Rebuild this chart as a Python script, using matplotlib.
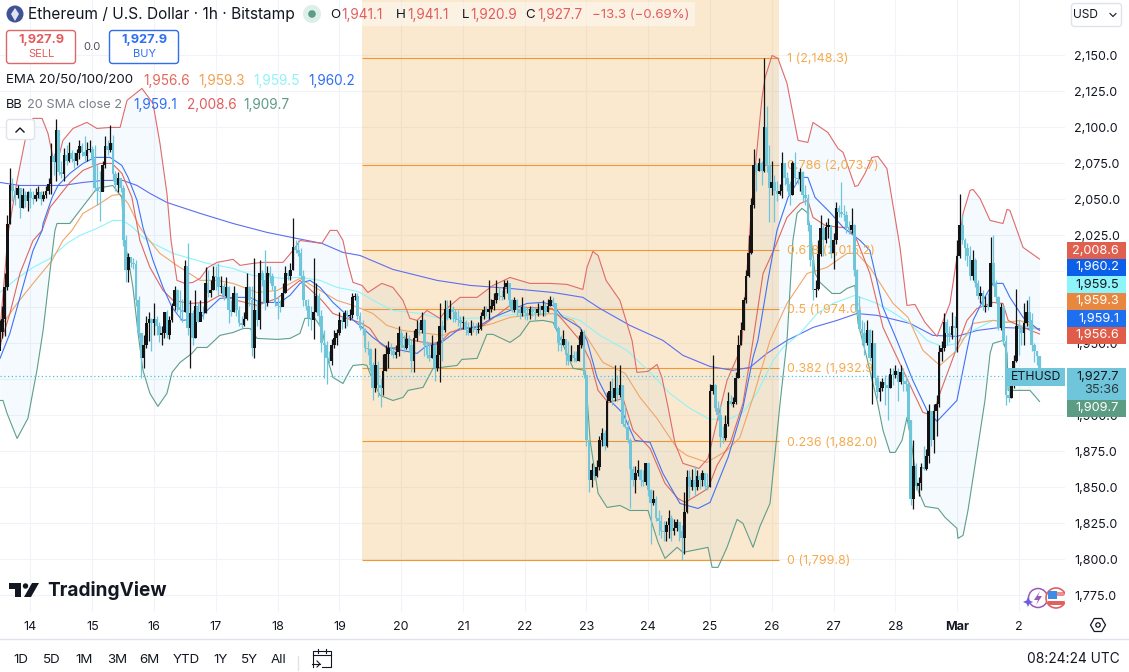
#!/usr/bin/env python3
"""ETH/USD 1h TradingView screenshot redrawn with matplotlib."""
import numpy as np
import matplotlib
matplotlib.use("Agg")
import matplotlib.pyplot as plt
from matplotlib.patches import Circle, FancyBboxPatch, Polygon, Rectangle

plt.rcParams["font.family"] = ["Inter", "DejaVu Sans"]

# hourly candles, hour 0 = Feb 13 12:00 UTC
first_open = 1945
closes = [
    1958, 1967, 1989, 2033, 2060, 2056, 2053, 2058, 2044, 2053,
    2049, 2055, 2051, 2050, 2053, 2055, 2050, 2053, 2056, 2061,
    2080, 2076, 2098, 2069, 2068, 2081, 2077, 2082, 2078, 2077,
    2082, 2087, 2083, 2080, 2084, 2085, 2078, 2058, 2056, 2055,
    2074, 2087, 2084, 2089, 2068, 2060, 2065, 2058, 2022, 2001,
    2010, 2006, 2005, 1980, 1957, 1940, 1949, 1964, 1967, 1964,
    1967, 1962, 1956, 1957, 1972, 1956, 1966, 1976, 1987, 1975,
    1973, 1972, 2004, 1961, 1971, 1954, 1976, 1965, 1972, 1971,
    1992, 1985, 1987, 1997, 1996, 1989, 1990, 1983, 1989, 1973,
    1972, 1985, 1973, 1964, 1963, 1967, 1989, 1980, 1947, 1973,
    1966, 1999, 1994, 1978, 1999, 1997, 1990, 1978, 1976, 1975,
    1985, 1999, 1997, 2001, 2017, 2015, 2013, 1997, 1980, 1976,
    1968, 1966, 1972, 1983, 1969, 1950, 1949, 1940, 1938, 1949,
    1954, 1957, 1966, 1965, 1971, 1969, 1970, 1982, 1983, 1969,
    1961, 1960, 1947, 1946, 1935, 1919, 1935, 1921, 1919, 1931,
    1943, 1947, 1945, 1942, 1944, 1957, 1949, 1947, 1953, 1949,
    1938, 1954, 1960, 1959, 1966, 1949, 1942, 1940, 1949, 1933,
    1942, 1962, 1959, 1974, 1968, 1974, 1972, 1967, 1966, 1964,
    1965, 1959, 1957, 1961, 1960, 1959, 1960, 1969, 1973, 1972,
    1974, 1976, 1980, 1985, 1983, 1982, 1989, 1992, 1980, 1973,
    1980, 1973, 1971, 1975, 1971, 1970, 1974, 1972, 1971, 1974,
    1973, 1976, 1972, 1976, 1980, 1978, 1961, 1950, 1949, 1953,
    1942, 1938, 1942, 1940, 1938, 1949, 1958, 1928, 1883, 1855,
    1862, 1858, 1864, 1883, 1888, 1879, 1910, 1917, 1912, 1919,
    1914, 1921, 1894, 1892, 1883, 1863, 1855, 1860, 1862, 1855,
    1854, 1867, 1848, 1839, 1842, 1829, 1827, 1820, 1819, 1824,
    1829, 1820, 1822, 1826, 1820, 1815, 1833, 1857, 1850, 1855,
    1850, 1858, 1855, 1860, 1851, 1850, 1917, 1921, 1905, 1900,
    1885, 1884, 1894, 1910, 1908, 1909, 1926, 1949, 1959, 1980,
    1997, 2013, 2046, 2074, 2070, 2075, 2070, 2100, 2074, 2058,
    2062, 2056, 2054, 2056, 2075, 2065, 2061, 2053, 2075, 2065,
    2064, 2069, 2053, 2051, 2032, 2008, 1987, 1988, 2012, 2030,
    2022, 2031, 2032, 2013, 2022, 2044, 2041, 2040, 2039, 2030,
    2029, 2032, 2001, 1973, 1960, 1957, 1950, 1959, 1940, 1950,
    1926, 1916, 1919, 1923, 1921, 1919, 1929, 1928, 1931, 1923,
    1930, 1924, 1922, 1897, 1842, 1865, 1851, 1853, 1864, 1863,
    1872, 1903, 1883, 1903, 1908, 1944, 1947, 1965, 1957, 1956,
    1962, 1961, 2011, 2032, 2022, 2016, 2011, 1997, 2008, 1992,
    1983, 1985, 1975, 1976, 1975.5, 2006, 1992, 1982, 1961, 1975,
    1952, 1914, 1912, 1921, 1938, 1962, 1960, 1957, 1964, 1972,
    1966, 1949, 1945, 1941.1, 1927.7,
]
highs = [
    1966, 1976, 1999, 2039, 2072, 2065, 2058, 2060, 2058, 2058,
    2056, 2056, 2058, 2056, 2058, 2059, 2056, 2056, 2059, 2065,
    2089, 2082, 2106, 2098, 2077, 2086, 2088, 2090, 2084, 2083,
    2085, 2091, 2089, 2094, 2090, 2091, 2087, 2088, 2074, 2070,
    2077, 2094, 2091, 2102, 2095, 2070, 2069, 2063, 2060, 2025,
    2013, 2010, 2009, 2008, 1983, 1957, 1956, 1969, 1972, 1968,
    1978, 1969, 1965, 1962, 1972, 1973, 1969, 1978, 1990, 1988,
    1987, 1981, 2008, 2020, 1980, 1973, 1987, 1978, 1980, 1976,
    2003, 2001, 1994, 2004, 2004, 2006, 1997, 1992, 1996, 1990,
    1980, 1990, 1983, 1976, 1969, 1972, 1999, 1990, 1990, 2009,
    1980, 2008, 2001, 2015, 2004, 2004, 1999, 1990, 1983, 1980,
    1992, 2004, 2001, 2006, 2037, 2022, 2022, 2016, 2001, 1980,
    1981, 1976, 2009, 1992, 1985, 1973, 1959, 1952, 1945, 1953,
    1959, 1960, 1972, 1969, 1973, 1973, 1974, 1985, 1985, 1985,
    1972, 1966, 1961, 1952, 1947, 1937, 1947, 1938, 1926, 1943,
    1949, 1952, 1950, 1947, 1949, 1962, 1959, 1956, 1958, 1956,
    1953, 1959, 1966, 1965, 1972, 1967, 1952, 1951, 1956, 1949,
    1952, 1978, 1966, 1980, 1980, 1980, 1976, 1974, 1973, 1969,
    1969, 1966, 1965, 1966, 1965, 1964, 1965, 1972, 1976, 1976,
    1994, 1981, 1985, 1994, 1989, 1987, 1994, 1994, 1992, 1981,
    1982, 1981, 1976, 1982, 1976, 1975, 1976, 1976, 1975, 1978,
    1977, 1980, 1978, 1981, 1983, 1982, 1978, 1962, 1956, 1959,
    1953, 1952, 1949, 1945, 1945, 1956, 1960, 1959, 1928, 1883,
    1867, 1865, 1869, 1886, 1891, 1890, 1916, 1924, 1926, 1935,
    1928, 1935, 1921, 1907, 1897, 1884, 1865, 1865, 1869, 1863,
    1862, 1867, 1867, 1849, 1848, 1844, 1834, 1831, 1827, 1827,
    1834, 1831, 1828, 1828, 1826, 1824, 1847, 1862, 1862, 1863,
    1865, 1862, 1860, 1862, 1860, 1860, 1922, 1942, 1922, 1910,
    1907, 1893, 1900, 1916, 1914, 1913, 1930, 1956, 1965, 1982,
    2001, 2025, 2051, 2085, 2075, 2079, 2077, 2148.3, 2115, 2088,
    2077, 2067, 2063, 2061, 2083, 2074, 2069, 2063, 2077, 2083,
    2070, 2072, 2070, 2060, 2054, 2032, 2009, 1994, 2022, 2039,
    2032, 2034, 2037, 2032, 2027, 2048, 2046, 2062, 2046, 2042,
    2035, 2044, 2033, 2002, 1983, 1966, 1965, 1966, 1960, 1959,
    1950, 1928, 1924, 1926, 1928, 1928, 1933, 1933, 1935, 1933,
    1935, 1933, 1928, 1924, 1897, 1883, 1867, 1857, 1867, 1879,
    1877, 1908, 1903, 1908, 1914, 1949, 1952, 1971, 1967, 1962,
    1972, 1969, 2022, 2054, 2039, 2023, 2020, 2018, 2015, 2009,
    1994, 1990, 1987, 1983, 1985, 2024, 2025, 1994, 1983, 1978,
    1976, 1956, 1921, 1928, 1942, 1988, 1966, 1962, 1978, 1980,
    1983, 1971, 1950, 1945, 1941.1,
]
lows = [
    1949, 1954, 1955, 1987, 2033, 2049, 2046, 2051, 2037, 2044,
    2045, 2042, 2044, 2047, 2049, 2051, 2046, 2049, 2051, 2054,
    2054, 2067, 2063, 2067, 2065, 2063, 2074, 2076, 2076, 2072,
    2074, 2078, 2080, 2077, 2077, 2083, 2074, 2056, 2046, 2035,
    2056, 2072, 2081, 2083, 2063, 2056, 2055, 2055, 2018, 1993,
    1993, 2003, 2002, 1976, 1954, 1926, 1933, 1947, 1952, 1945,
    1956, 1956, 1951, 1949, 1954, 1954, 1953, 1965, 1973, 1972,
    1966, 1965, 1972, 1956, 1933, 1949, 1954, 1965, 1966, 1967,
    1971, 1982, 1982, 1987, 1987, 1983, 1985, 1980, 1982, 1964,
    1969, 1972, 1969, 1962, 1960, 1962, 1966, 1976, 1941, 1940,
    1962, 1960, 1990, 1973, 1976, 1992, 1987, 1976, 1967, 1972,
    1976, 1985, 1994, 1994, 2001, 2013, 2011, 1995, 1976, 1973,
    1962, 1959, 1953, 1972, 1962, 1944, 1926, 1922, 1935, 1935,
    1947, 1949, 1956, 1960, 1961, 1962, 1966, 1968, 1980, 1967,
    1959, 1956, 1944, 1942, 1931, 1911, 1916, 1913, 1906, 1914,
    1931, 1933, 1942, 1940, 1940, 1941, 1947, 1944, 1946, 1945,
    1930, 1930, 1952, 1956, 1957, 1941, 1940, 1938, 1940, 1924,
    1931, 1923, 1938, 1958, 1966, 1967, 1965, 1965, 1962, 1960,
    1960, 1956, 1956, 1956, 1958, 1956, 1957, 1959, 1967, 1969,
    1967, 1972, 1973, 1978, 1980, 1980, 1981, 1985, 1976, 1972,
    1972, 1969, 1967, 1969, 1967, 1966, 1967, 1969, 1966, 1969,
    1970, 1969, 1969, 1972, 1976, 1976, 1960, 1945, 1945, 1949,
    1935, 1935, 1938, 1937, 1937, 1938, 1947, 1926, 1879, 1847,
    1850, 1855, 1857, 1862, 1879, 1876, 1878, 1909, 1907, 1910,
    1910, 1913, 1893, 1891, 1881, 1836, 1851, 1846, 1858, 1851,
    1851, 1852, 1844, 1811, 1838, 1827, 1817, 1815, 1813, 1813,
    1815, 1813, 1817, 1820, 1813, 1799.8, 1804, 1832, 1843, 1848,
    1844, 1848, 1849, 1851, 1849, 1848, 1850, 1915, 1903, 1897,
    1878, 1881, 1883, 1893, 1907, 1906, 1908, 1926, 1949, 1959,
    1978, 1996, 2012, 2044, 2056, 2070, 2060, 2069, 2069, 2034,
    2053, 2034, 2049, 2053, 2051, 2060, 2056, 2046, 2053, 2060,
    2061, 2056, 2049, 2046, 2028, 2004, 1980, 1982, 1987, 2011,
    2011, 2020, 2023, 2009, 2002, 2019, 2038, 2038, 2035, 2027,
    2026, 2027, 1997, 1969, 1959, 1949, 1942, 1949, 1938, 1908,
    1921, 1912, 1910, 1917, 1907, 1897, 1919, 1921, 1926, 1910,
    1922, 1917, 1917, 1893, 1838, 1835, 1848, 1844, 1848, 1862,
    1862, 1867, 1879, 1874, 1886, 1906, 1938, 1945, 1949, 1951,
    1953, 1944, 1944, 2009, 2019, 2008, 2004, 1994, 1994, 1989,
    1981, 1978, 1973, 1972, 1973, 1976, 1990, 1978, 1959, 1959,
    1949, 1907, 1909, 1912, 1919, 1937, 1942, 1949, 1949, 1962,
    1959, 1945, 1937, 1935, 1920.9,
]

# indicator lines: hour, price
bb_upper_h = [0.15, 3.3, 6.8, 9.9, 13, 16.5, 18.8, 20.7, 22.3, 24.6, 28.5, 33.9, 37.8, 42.9, 46.8, 49.5, 55.3, 59.6, 62.3, 65, 66.6, 67, 68.9, 72, 75.1, 77.9, 81, 84.5, 90.7, 93.4, 98.4, 102.3, 110.1, 114, 116.7, 125.2, 128.4, 131.1, 133.4, 135.3, 137.3, 140.8, 143.1, 148.5, 152.8, 156.7, 159.4, 162.2, 166, 171.1, 174.2, 178.9, 185.5, 191.7, 198.3, 206, 213.8, 220.4, 226.6, 228.2, 230.5, 232.5, 235.6, 241, 245.7, 247.6, 251.9, 255.4, 257.3, 259.7, 262.4, 265.5, 271.7, 275.2, 282.6, 286.5, 288.4, 292.3, 296.2, 297.4, 300.1, 302.4, 305.9, 310.2, 314, 316, 321.8, 325.7, 327.7, 332.3, 333.5, 336.2, 338.9, 341.2, 344.7, 349.8, 352.5, 355.6, 359.5, 364.2, 369.2, 373.1, 374.3, 377, 378.2, 380.9, 384.8, 389.8, 391.4, 392.5, 397.6, 404]
bb_upper = [1959, 2026.4, 2063.2, 2091, 2106.3, 2106.3, 2095.8, 2079.2, 2075, 2091, 2099.3, 2103.5, 2099.3, 2100, 2100, 2118.8, 2127.1, 2116.7, 2088.9, 2054.2, 2021.5, 2016.7, 1993.8, 1991.7, 1992.4, 1995.2, 2002.8, 2006.3, 2008.4, 2004.2, 2005.6, 2006.3, 2006.3, 2014.6, 2021.5, 2019.5, 2028.5, 2028.5, 2021.5, 2005.6, 1992.4, 1990.3, 1985.4, 1991.7, 1988.9, 1979.9, 1967.4, 1966, 1972.9, 1967.4, 1975, 1982, 1982, 1990.3, 1995.8, 1991.7, 1991.7, 1991, 1987.5, 2002.8, 2013.9, 2011.1, 1993.8, 1979.9, 1952.1, 1929.9, 1930.6, 1935.4, 1926.4, 1905.6, 1880.6, 1866.7, 1863.2, 1870.2, 1924.3, 1940.3, 1952.1, 2049.3, 2120.8, 2134.7, 2150, 2147.9, 2130.6, 2091, 2089.6, 2103.5, 2096.5, 2085.4, 2082.7, 2059, 2059.7, 2068.1, 2079.2, 2079.9, 2071.5, 2016.7, 1976.4, 1977.1, 1964.6, 1954.9, 1977.8, 2023.6, 2040.3, 2056.3, 2056.9, 2050.7, 2035.4, 2033.3, 2043.1, 2042.4, 2016.7, 2008.6]
bb_lower_h = [0.15, 1.3, 2.9, 6.8, 11, 14.5, 16.9, 19.6, 21.5, 22.3, 27.3, 31.2, 37.8, 44, 47.5, 48.3, 49.9, 51.8, 53.8, 55.7, 58.4, 61.5, 65, 67, 70.1, 74.7, 76.7, 80.6, 85.6, 90.7, 94.6, 97.3, 100, 107.8, 112.8, 116.7, 118.6, 122.5, 125.2, 127.6, 129.5, 133.4, 136.1, 137.3, 141.2, 142.7, 145, 147.8, 152.8, 156.7, 158.7, 164.5, 168.4, 177.7, 179.6, 185.5, 189.3, 191.7, 198.3, 202.2, 206, 211.1, 215, 217.7, 222.8, 227.4, 228.6, 229.4, 232.5, 236, 241, 244.9, 251.9, 255.8, 258.5, 263.2, 265.5, 275.2, 276.8, 279.1, 282.6, 286.5, 288.8, 292.7, 295.4, 299.3, 303.2, 305.9, 308.2, 309.8, 311.7, 313.7, 314.8, 316.8, 318.7, 323.4, 326.5, 329.2, 332.3, 333.5, 336.2, 340.9, 343.2, 345.9, 347.9, 350.6, 352.5, 354.1, 356.8, 359.5, 364.6, 367.3, 371.9, 372.3, 374.3, 376.2, 379.7, 382.8, 384.8, 385.9, 389.8, 391.4, 391.8, 395.3, 400.3, 404]
bb_lower = [1910.4, 1910.4, 1901.4, 1884, 1898, 1931.3, 1959, 2000.7, 2028.5, 2033.3, 2033.3, 2042.4, 2057.7, 2059.7, 2051.4, 2021.5, 2009.7, 1988.9, 1957, 1931.3, 1915.3, 1906.3, 1915.3, 1929.9, 1936.8, 1943.1, 1947.2, 1947.2, 1955.6, 1957.6, 1960.4, 1960.4, 1953.5, 1952.8, 1953.5, 1957, 1967.4, 1967.4, 1960.4, 1938.2, 1926.4, 1922.2, 1931.3, 1934.7, 1935.4, 1934.7, 1924.3, 1913.9, 1910.4, 1912.5, 1917.4, 1919.5, 1932.7, 1934.7, 1938.9, 1939.6, 1956.3, 1956.3, 1950.7, 1955.6, 1965.3, 1966, 1964.6, 1954.2, 1932.7, 1931.3, 1903.5, 1882.7, 1845.9, 1836.1, 1837.5, 1834, 1834, 1811.8, 1800.7, 1808.4, 1804.9, 1808.4, 1794.5, 1794.5, 1808.4, 1827.8, 1825, 1808.4, 1823, 1838.9, 1908.4, 1952.1, 2021.5, 2040.3, 2043.8, 2041, 2030.6, 1998.6, 1992.4, 1984.7, 1984.7, 1988.2, 1990.3, 1963.9, 1945.2, 1910.4, 1889.6, 1874.3, 1874.3, 1882.7, 1898.6, 1882.7, 1848, 1836.8, 1835.4, 1829.2, 1821.6, 1814.6, 1816.7, 1834, 1874.3, 1910.4, 1943.1, 1950, 1952.1, 1943.1, 1917.4, 1917.4, 1917.4, 1909.7]
bb_basis_h = [0.15, 4, 7.9, 13, 16.5, 16.9, 20.4, 22.7, 27.3, 32.4, 37, 42.9, 47.5, 49.9, 53.4, 55.7, 59.6, 63.5, 67, 70.9, 77.9, 80.6, 85.6, 90.7, 97.3, 101.2, 108.9, 112.8, 116.7, 120.6, 124.5, 129.5, 135, 140, 145, 150.5, 162.2, 166, 171.1, 178.9, 185.5, 191.7, 198.3, 204.9, 211.1, 215, 218.9, 225.5, 228.2, 232.1, 236, 242.2, 246.8, 252.7, 257.7, 264.3, 271.3, 276, 283, 288.8, 292.7, 294.6, 298.5, 302, 306.3, 311, 314, 316.8, 322.6, 327.7, 334.3, 338.1, 343.2, 348.6, 354.8, 360.3, 364.2, 371.9, 375.8, 378.2, 382, 385.9, 389.8, 392.5, 397.6, 404]
bb_basis = [1939.6, 1957, 1982, 2014.6, 2028.5, 2033.3, 2051.4, 2059.7, 2068.1, 2075, 2079.2, 2079.2, 2073.6, 2065.3, 2049.3, 2030.6, 2007.7, 1988.9, 1975, 1966, 1967.4, 1972.9, 1981.3, 1982, 1982, 1978.5, 1978.5, 1983.4, 1991.7, 1993.8, 1988.9, 1978.5, 1969.5, 1962.5, 1954.2, 1947.2, 1943.1, 1948.6, 1950, 1960.4, 1961.1, 1968.1, 1972.9, 1977.8, 1978.5, 1976.4, 1968.1, 1961.1, 1952.1, 1926.4, 1912.5, 1901.4, 1882.7, 1881.3, 1859.7, 1838.9, 1835.4, 1839.6, 1870.9, 1905.6, 1940.3, 1952.1, 1993.8, 2028.5, 2051.4, 2065.3, 2065.3, 2051.4, 2041, 2030.6, 2021.5, 2014.6, 1975, 1952.1, 1924.3, 1903.5, 1895.9, 1910.4, 1945.2, 1966, 1979.9, 1991.7, 1991.7, 1982, 1968.1, 1959.1]
ema20_h = [0.15, 4, 7.9, 13, 16.5, 19.6, 22.7, 27.3, 32.4, 39, 43.7, 47.5, 51.4, 54.5, 58.4, 63.5, 67.4, 74, 80.6, 85.6, 92.2, 100, 107.8, 116.7, 119.8, 125.2, 129.5, 135, 140, 143.9, 147.8, 150.5, 154.4, 156.7, 160.6, 167.2, 171.1, 175, 182.8, 187.8, 193.2, 198.3, 204.9, 214.6, 218.9, 225.5, 229.4, 232.5, 236.4, 242.2, 246.1, 252.7, 258.5, 263.5, 266.3, 270.9, 275.2, 278.7, 283.8, 288.8, 292.7, 296.6, 301.2, 305.9, 311, 314, 316, 320.7, 326.5, 329.6, 333.1, 338.1, 343.2, 351, 358.7, 362.6, 365.3, 371.9, 375.8, 379.7, 385.9, 389.8, 391.8, 397.6, 404]
ema20 = [1948.6, 1970.8, 1998.6, 2021.5, 2028.5, 2044.5, 2051.4, 2061.8, 2070.2, 2075, 2075, 2068.1, 2051.4, 2021.5, 2002.8, 1986.8, 1979.9, 1977.8, 1978.5, 1983.4, 1979.9, 1976.4, 1981.3, 1993.8, 1988.9, 1979.9, 1970.8, 1967.4, 1964.6, 1960.4, 1950, 1946.6, 1947.2, 1954.2, 1952.1, 1950, 1950.7, 1957.7, 1961.1, 1962.5, 1969.5, 1976.4, 1975, 1974.3, 1966, 1952.1, 1938.2, 1917.4, 1909, 1911.8, 1889.6, 1877.1, 1852.8, 1842.4, 1839.6, 1844.5, 1849.3, 1865.3, 1880.6, 1908.4, 1952.1, 1998.6, 2016.7, 2037.5, 2047.2, 2049.3, 2037.5, 2032, 2030.6, 2030.6, 2021.5, 1998.6, 1961.1, 1931.3, 1902.1, 1900, 1915.3, 1947.2, 1966, 1974.3, 1978.5, 1977.8, 1966, 1961.1, 1956.6]
ema50_h = [1.3, 6.8, 13, 20.4, 24.6, 28.1, 32.4, 39, 43.7, 46.8, 49.9, 54.5, 57.3, 62.3, 68.9, 77.9, 84.5, 90.7, 100, 107.8, 116.7, 124.5, 131.1, 137.3, 145, 150.5, 156.7, 166, 172.3, 178.9, 185.5, 191.7, 198.3, 204.9, 215, 222.8, 228.2, 234.4, 243, 248.8, 255.4, 263.2, 267, 274.8, 282.6, 287.6, 292.7, 299.3, 305.9, 313.7, 321.4, 329.2, 333.1, 338.1, 347.1, 352.9, 358.7, 365.3, 371.9, 378.2, 385.9, 391.4, 396.4, 404]
ema50 = [1963.9, 1977.8, 1991.7, 2007.7, 2021.5, 2028.5, 2040.3, 2047.2, 2052.8, 2053.5, 2047.2, 2030.6, 2023.6, 2012.5, 2004.2, 1993.8, 1993.8, 1991.7, 1985.4, 1986.8, 1995.2, 1986.8, 1979.9, 1976.4, 1970.8, 1962.5, 1959, 1957, 1955.6, 1960.4, 1961.1, 1963.9, 1968.1, 1969.5, 1970.8, 1966, 1954.2, 1936.8, 1929.2, 1912.5, 1897.9, 1877.1, 1872.2, 1867.4, 1875.7, 1884.7, 1912.5, 1952.1, 1977.8, 1998.6, 2002.8, 2012.5, 2012.5, 2002.8, 1977.8, 1968.1, 1945.2, 1934.7, 1945.2, 1963.9, 1966, 1964.6, 1966, 1959.3]
ema100_h = [0.15, 6.8, 13, 19.6, 26.2, 31.2, 37.8, 44, 47.9, 51.8, 55.7, 59.6, 67.4, 80.6, 90.7, 98.4, 110.1, 116.7, 124.5, 131.1, 137.3, 140, 146.6, 152.8, 163.3, 171.1, 181.6, 191.7, 199.5, 212.7, 217.7, 225.5, 233.2, 243.7, 252.7, 260.4, 268.2, 276, 283.8, 288.8, 294.2, 300.5, 304.3, 311, 317.6, 323.8, 332.3, 340.9, 347.1, 353.7, 360.3, 366.1, 371.9, 378.2, 385.9, 392.5, 404]
ema100 = [1985.4, 1995.2, 2002.8, 2009, 2019.5, 2025, 2029.9, 2035.4, 2035.4, 2030.6, 2023.6, 2019.5, 2012.5, 2005.6, 2002.1, 1997.2, 1995.2, 1995.9, 1993.8, 1988.9, 1986.8, 1985.4, 1978.5, 1972.9, 1970.8, 1967.4, 1967.4, 1968.1, 1970.2, 1970.8, 1970.2, 1966, 1955.6, 1945.2, 1929.9, 1915.3, 1904.9, 1897.2, 1897.9, 1902.1, 1915.3, 1938.2, 1947.2, 1957, 1970.8, 1977.8, 1983.4, 1977.8, 1971.5, 1963.9, 1952.1, 1947.9, 1950, 1959, 1966, 1964.6, 1959.5]
ema200_h = [0.15, 7.9, 16.9, 24.6, 32.4, 40.2, 47.9, 53.4, 58.4, 65, 77.9, 90.7, 103.9, 115.5, 125.2, 133.4, 140, 152.8, 169.9, 182.8, 198.3, 215, 226.6, 233.2, 244.9, 257.7, 265.5, 276, 284.9, 291.5, 298.1, 305.9, 316, 325.3, 333.1, 340.9, 353.7, 362.6, 371.9, 379.7, 388.7, 404]
ema200 = [2061.8, 2059.7, 2059.7, 2059.7, 2061.8, 2063.2, 2063.2, 2059.7, 2054.2, 2047.9, 2040.3, 2033.3, 2027.1, 2022.9, 2019.5, 2013.2, 2011.1, 2001.4, 1993.8, 1990.3, 1988.2, 1985.4, 1982, 1974.3, 1962.5, 1952.1, 1941.7, 1934, 1931.3, 1933.4, 1943.1, 1952.1, 1961.1, 1966, 1970.8, 1969.5, 1963.9, 1955.6, 1954.9, 1959, 1961.1, 1960.2]

fib_levels = [2148.3, 2073.7, 2015.2, 1974.0, 1932.9, 1882.0, 1799.8]
fib_labels = ["1 (2,148.3)", "0.786 (2,073.7)", "0.618 (2,015.2)", "0.5 (1,974.0)",
              "0.382 (1,932.9)", "0.236 (1,882.0)", "0 (1,799.8)"]
fib_start, fib_end = 140.8, 302.8

day_hours = [12 + 24 * i for i in range(17)]
day_labels = ["14", "15", "16", "17", "18", "19", "20", "21", "22", "23", "24", "25",
              "26", "27", "28", "Mar", "2"]
price_ticks = [2150, 2125, 2100, 2075, 2050, 2025, 2000, 1975, 1950, 1925, 1900, 1875,
               1850, 1825, 1800, 1775]
# these sit completely behind the price tags in the screenshot
hidden_ticks = [2000, 1975, 1925]
last_price = 1927.7

# tag text, centre y in px, background, text colour
price_tags = [
    ("2,008.6", 250.5, "#E0604F", "white"),
    ("1,960.2", 267.5, "#0B5FE8", "white"),
    ("1,959.5", 284.5, "#8DF4FA", "#131722"),
    ("1,959.3", 301.5, "#E8873F", "white"),
    ("1,959.1", 318.5, "#1E6EF0", "white"),
    ("1,956.6", 335.5, "#E05C48", "white"),
]
range_buttons = [("1D", 21), ("5D", 52), ("1M", 84), ("3M", 117), ("6M", 149),
                 ("YTD", 186), ("1Y", 221), ("5Y", 250), ("All", 279)]

UP = "#131313"
DOWN = "#6FC6DA"
DARK = "#131722"
RED = "#E25C5C"
BLUE = "#2962FF"
GREEN = "#5B9C84"
FIB = "#F0982F"
FIB_TEXT = "#F5AB4E"

fig = plt.figure(figsize=(11.29, 6.72), dpi=100, facecolor="white")
ax = fig.add_axes([0, 60 / 672, 1065 / 1129, 612 / 672])
ax.set_xlim(0.155, 413.9)
ax.set_ylim(1763.5, 2188.5)
for s in ax.spines.values():
    s.set_visible(False)

# ---- price and time axis ----
ax.set_axisbelow(True)
ax.grid(color="#F0F3FA", lw=0.8)
ax.yaxis.tick_right()
ax.set_yticks(price_ticks)
ax.set_yticklabels(["" if p in hidden_ticks else f"{p:,.1f}" for p in price_ticks],
                   fontsize=9, color=DARK, va="center_baseline")
ax.set_xticks(day_hours)
ax.set_xticklabels(day_labels, fontsize=9, color=DARK)
ax.get_xticklabels()[15].set_fontweight("bold")
ax.tick_params(axis="both", length=0)
ax.tick_params(axis="y", pad=6.5)
ax.tick_params(axis="x", pad=6.5)

# ---- fib retracement ----
ax.add_patch(Rectangle((fib_start, fib_levels[-1]), fib_end - fib_start, 500,
                       fc="#EE9B25", alpha=0.22, lw=0, zorder=1))
for lev, lab in zip(fib_levels, fib_labels):
    ax.hlines(lev, fib_start, fib_end, color=FIB, lw=0.8, zorder=1.5)
    ax.text(305.9, lev - 0.8, lab, color=FIB_TEXT, fontsize=9, va="center", ha="left", zorder=3.8)

# ---- bollinger band and emas ----
hgrid = np.arange(0.15, 404.01, 0.25)
ax.fill_between(hgrid, np.interp(hgrid, bb_lower_h, bb_lower), np.interp(hgrid, bb_upper_h, bb_upper),
                color="#2196F3", alpha=0.045, lw=0, zorder=2)
ax.plot(ema200_h, ema200, color="#5C6EF2", lw=0.8, zorder=3)
ax.plot(ema100_h, ema100, color="#8FF3F8", lw=0.8, zorder=3)
ax.plot(ema50_h, ema50, color="#F2A566", lw=0.8, zorder=3)
ax.plot(ema20_h, ema20, color="#E2675A", lw=0.8, zorder=3)
ax.plot(bb_basis_h, bb_basis, color="#3F73F5", lw=0.8, zorder=3)
ax.plot(bb_upper_h, bb_upper, color="#E06A6A", lw=0.8, zorder=3)
ax.plot(bb_lower_h, bb_lower, color="#5F9F88", lw=0.8, zorder=3)

# ---- candles ----
closes_a = np.array(closes, dtype=float)
opens = np.concatenate([[first_open], closes_a[:-1]])
hours = np.arange(len(closes_a))
colors = np.where(closes_a >= opens, UP, DOWN)
ax.vlines(hours, lows, highs, colors=colors, lw=0.9, zorder=4)
ax.bar(hours, np.maximum(np.abs(closes_a - opens), 0.9), bottom=np.minimum(opens, closes_a),
       width=1.05, color=colors, lw=0, zorder=5)
ax.axhline(last_price, color="#4EC3D8", lw=0.9, ls=(0, (1, 2)), zorder=3.5)

# ---- screen furniture, in pixels ----
ui = fig.add_axes([0, 0, 1, 1], zorder=10)
ui.set_xlim(0, 1129)
ui.set_ylim(672, 0)
ui.axis("off")


def txt(x, y, s, color=DARK, size=9, ha="left", **kw):
    ui.text(x, y, s, color=color, fontsize=size, ha=ha, va="center", **kw)


def box(x, y, w, h, fc="none", ec="none", rad=3, lw=1, alpha=None):
    ui.add_patch(FancyBboxPatch((x, y), w, h, boxstyle=f"round,pad=0,rounding_size={rad}",
                                fc=fc, ec=ec, lw=lw, alpha=alpha))


# header
ui.add_patch(Rectangle((362, 2), 333, 24, fc="white", alpha=0.45, lw=0))
ui.add_patch(Circle((15, 14), 8.5, fc="#3F5295", lw=0))
ui.add_patch(Polygon([(15, 8), (19, 14), (15, 21), (11, 14)], fc="white", alpha=0.85, lw=0))
txt(28, 14.5, "Ethereum / U.S. Dollar · 1h · Bitstamp", size=11.1)
ui.add_patch(Circle((312, 14), 9, fc="#DCEFE8", lw=0))
ui.add_patch(Circle((312, 14), 3.8, fc=GREEN, lw=0))
txt(330, 14.5, "O", size=9.6)
txt(341, 14.5, "1,941.1", RED, 9.8)
txt(396, 14.5, "H", size=9.6)
txt(407, 14.5, "1,941.1", RED, 9.8)
txt(462, 14.5, "L", size=9.6)
txt(470, 14.5, "1,920.9", RED, 9.8)
txt(525, 14.5, "C", size=9.6)
txt(537, 14.5, "1,927.7", RED, 9.8)
txt(592, 14.5, "−13.3 (−0.69%)", RED, 9.5)

# sell / buy
box(6.5, 30.5, 69, 33, fc="white", ec="#E0666A")
txt(41, 40, "1,927.9", RED, 9.2, ha="center", fontweight="bold")
txt(41, 54, "SELL", RED, 8, ha="center")
txt(92, 47, "0.0", "#4A4E59", 8, ha="center")
box(109.5, 30.5, 69, 33, fc="white", ec="#2E6FF2")
txt(144, 40, "1,927.9", "#2E6FF2", 9.2, ha="center", fontweight="bold")
txt(144, 54, "BUY", "#2E6FF2", 8, ha="center")

# legends
txt(6, 80.5, "EMA 20/50/100/200", size=9.6)
txt(143, 80.5, "1,956.6", "#E2675A", 9.8)
txt(198, 80.5, "1,959.3", "#F2A050", 9.8)
txt(253, 80.5, "1,959.5", "#8FF3F8", 9.8)
txt(308, 80.5, "1,960.2", "#2E6FF2", 9.8)
txt(6, 104.5, "BB", size=9.2)
txt(27, 104.5, "20 SMA close 2", "#7A7E89", 9.2)
txt(133, 104.5, "1,959.1", "#2E6FF2", 9.8)
txt(187, 104.5, "2,008.6", RED, 9.8)
txt(243, 104.5, "1,909.7", GREEN, 9.8)
box(6.5, 119.5, 28, 20, fc="white", ec="#E0E3EB")
ui.plot([16, 20, 24], [132, 128, 132], color=DARK, lw=1)

# usd button
box(1071.5, 3.5, 50, 23, fc="white", ec="#E0E3EB")
txt(1085, 15, "USD", size=8.6, ha="center")
ui.plot([1110, 1113, 1116], [13.5, 16.5, 13.5], color=DARK, lw=0.8)

# price tags
for label, yc, bg, fg in price_tags:
    ui.add_patch(Rectangle((1067, yc - 8.5), 59, 17, fc=bg, lw=0))
    txt(1119, yc, label, fg, 9.2, ha="right")
ui.add_patch(Rectangle((1067, 368), 59, 32, fc=DOWN, lw=0))
txt(1119, 376.5, "1,927.7", DARK, 9.2, ha="right")
txt(1119, 390, "35:36", "#2A3A42", 9.2, ha="right")
ui.add_patch(Rectangle((1067, 400), 59, 16.5, fc=GREEN, lw=0))
txt(1119, 408, "1,909.7", "white", 9.2, ha="right")
ui.add_patch(Rectangle((1007, 368), 58, 17.5, fc=DOWN, lw=0))
txt(1036, 377, "ETHUSD", DARK, 8.8, ha="center")

# tradingview logo
ui.add_patch(Polygon([(9, 583), (21, 583), (21, 597), (15, 597), (15, 589), (9, 589)], fc="#131722", lw=0))
ui.add_patch(Circle((25.5, 586), 2.7, fc="#131722", lw=0))
ui.add_patch(Polygon([(32, 583), (39, 583), (31, 597), (24, 597)], fc="#131722", lw=0))
txt(47, 590.5, "TradingView", "#131722", 13.7, fontweight="bold")

# bottom bar
ui.plot([0, 1129], [639, 639], color="#E0E3EB", lw=1)
for label, x in range_buttons:
    txt(x, 660, label, size=9.6, ha="center")
ui.plot([298, 298], [656, 670], color="#E0E3EB", lw=1)
ui.plot([313, 313, 331, 331, 322], [667, 651, 651, 667, 667], color=DARK, lw=0.8)
ui.plot([313, 331], [655, 655], color=DARK, lw=0.8)
ui.plot([318, 318], [649, 653], color=DARK, lw=0.8)
ui.plot([326, 326], [649, 653], color=DARK, lw=0.8)
ui.plot([312, 320], [664, 664], color=DARK, lw=0.8)
ui.plot([317, 320, 317], [661, 664, 667], color=DARK, lw=0.8)
txt(1120, 659, "08:24:24 UTC", size=9.9, ha="right")

# settings hexagon
angles = np.deg2rad(np.arange(0, 360, 60))
ui.add_patch(Polygon(np.column_stack([1098 + 7.5 * np.cos(angles), 625 + 7.5 * np.sin(angles)]),
                     fc="none", ec=DARK, lw=0.9))
ui.add_patch(Circle((1098, 625), 2.2, fc="none", ec=DARK, lw=0.9))

# event icons
ui.add_patch(Circle((1038, 598), 9.5, fc="white", ec="#9B59B6", lw=1.1))
ui.add_patch(Polygon([(1040, 591), (1034, 600), (1038, 600), (1036, 605), (1042, 596), (1038, 596)],
                     fc="#9B59B6", lw=0))
ui.add_patch(Polygon([(1028, 597), (1029.5, 600.5), (1033, 602), (1029.5, 603.5), (1028, 607),
                      (1026.5, 603.5), (1023, 602), (1026.5, 600.5)], fc="#6C5CE7", lw=0))
ui.add_patch(Circle((1056, 598), 10, fc="white", ec="#E2615F", lw=1.2))
ui.add_patch(Rectangle((1048, 601), 16, 4, fc="#E2615F", lw=0))
ui.add_patch(Rectangle((1048, 592), 16, 4, fc="#E2615F", alpha=0.7, lw=0))
ui.add_patch(Rectangle((1048, 591), 9, 8, fc="#3D8BE8", lw=0))
ui.add_patch(Rectangle((1065, 585), 3, 26, fc="white", lw=0))

fig.savefig("out.png", dpi=100)
